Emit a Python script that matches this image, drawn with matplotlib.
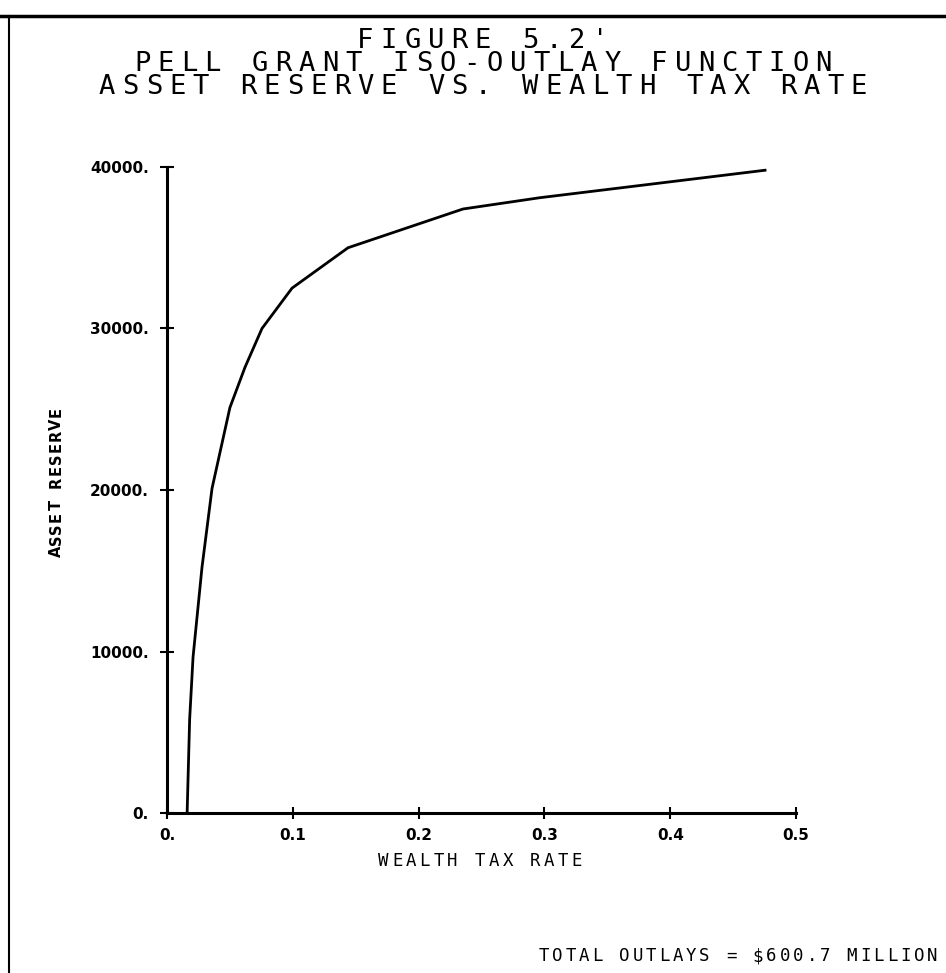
import matplotlib
matplotlib.use("Agg")
import matplotlib.pyplot as plt
from matplotlib.lines import Line2D

# Data
tax_rate = [0.016, 0.018, 0.0207, 0.0278, 0.0358, 0.050, 0.062, 0.0755, 0.0994,
            0.1439, 0.2353, 0.2965, 0.4754]
asset_reserve = [0, 5800, 9650, 15200, 20100, 25100, 27600, 30000, 32500,
                 35000, 37400, 38100, 39800]
x_ticks = [0.0, 0.1, 0.2, 0.3, 0.4, 0.5]
x_tick_labels = ["0.", "0.1", "0.2", "0.3", "0.4", "0.5"]
y_ticks = [0, 10000, 20000, 30000, 40000]
y_tick_labels = ["0.", "10000.", "20000.", "30000.", "40000."]
title_lines = ["FIGURE 5.2'", "PELL GRANT ISO-OUTLAY FUNCTION",
               "ASSET RESERVE VS. WEALTH TAX RATE"]
x_label = "WEALTH TAX RATE"
y_label = "ASSET RESERVE"
footer = "TOTAL OUTLAYS = $600.7 MILLION"

W, H = 946, 973
fig = plt.figure(figsize=(W / 100, H / 100), dpi=100)
ax = fig.add_axes([167 / W, 1 - 813 / H, (796 - 167) / W, (813 - 167) / H])

ax.plot(tax_rate, asset_reserve, color="black", lw=2.0)
ax.set_xlim(0, 0.5)
ax.set_ylim(0, 40000)
ax.spines["top"].set_visible(False)
ax.spines["right"].set_visible(False)
for s in ("left", "bottom"):
    ax.spines[s].set_linewidth(2.2)
ax.set_xticks(x_ticks)
ax.set_xticklabels(x_tick_labels, fontsize=11, fontweight="bold", family="DejaVu Sans")
ax.set_yticks(y_ticks)
ax.set_yticklabels(y_tick_labels, fontsize=11, fontweight="bold", family="DejaVu Sans")
ax.tick_params(axis="y", direction="inout", length=10, width=1.5, pad=8)
ax.tick_params(axis="x", direction="inout", length=9, width=1.5, pad=6)


def spaced_text(s, cx, y, pitch, rotation=0, **kw):
    """Typewriter-style text: each character in a fixed-width cell."""
    n = len(s)
    for i, ch in enumerate(s):
        if ch == " ":
            continue
        off = (i + 0.5 - n / 2) * pitch
        if rotation == 0:
            fig.text((cx + off) / W, 1 - y / H, ch, ha="center", va="baseline", **kw)
        else:
            fig.text(cx / W, 1 - (y - off) / H, ch, rotation=90, ha="center",
                     va="center", rotation_mode="anchor", **kw)


# Titles
for t, base in zip(title_lines, [48, 71, 94]):
    spaced_text(t, 483, base, 23.5, fontsize=19.5, family="DejaVu Sans Mono")

# Axis labels
spaced_text(x_label, 480, 866, 13.8, fontsize=12.5, family="DejaVu Sans Mono")
spaced_text(y_label, 56, 482, 11.6, rotation=90, fontsize=10.5,
            family="DejaVu Sans", fontweight="bold")

# Footer
fstart = 537
fpitch = 13.4
spaced_text(footer, fstart + len(footer) * fpitch / 2, 961, fpitch,
            fontsize=12.5, family="DejaVu Sans Mono")

# page border lines
fig.add_artist(Line2D([0, 1], [1 - 16 / H, 1 - 16 / H], color="black", lw=2.5,
                      transform=fig.transFigure))
fig.add_artist(Line2D([9 / W, 9 / W], [0, 1 - 16 / H], color="black", lw=1.5,
                      transform=fig.transFigure))

fig.savefig("out.png", dpi=100)
